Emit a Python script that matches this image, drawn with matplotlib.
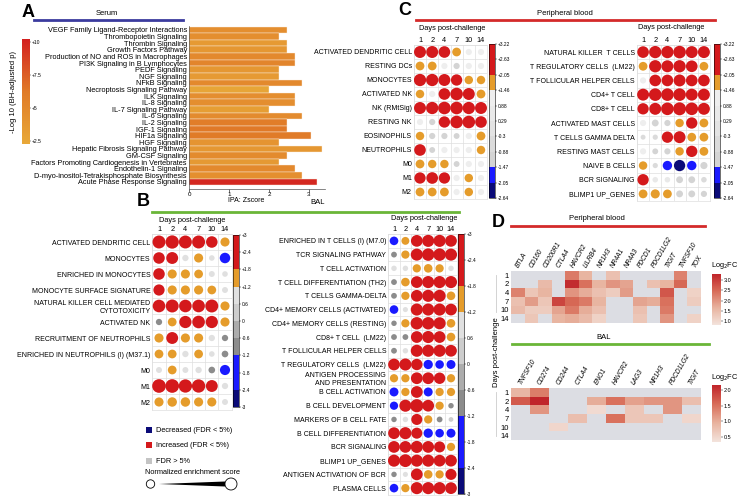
import numpy as np
import matplotlib
matplotlib.use('Agg')
import matplotlib.pyplot as plt
from matplotlib.colors import ListedColormap, BoundaryNorm, LinearSegmentedColormap, Normalize
from matplotlib.cm import ScalarMappable
from matplotlib.patches import Rectangle, Circle, Polygon

plt.rcParams['font.family'] = ['Liberation Sans', 'DejaVu Sans']

nan = np.nan
W, H = 739, 498

# ---- A: IPA pathways, serum ----
pathways = ['VEGF Family Ligand-Receptor Interactions', 'Thrombopoietin Signaling',
            'Thrombin Signaling', 'Growth Factors Pathway',
            'Production of NO and ROS in Macrophages', 'PI3K Signaling in B Lymphocytes',
            'PEDF Signaling', 'NGF Signaling', 'NFkB Signaling',
            'Necroptosis Signaling Pathway', 'ILK Signaling', 'IL-8 Signaling',
            'IL-7 Signaling Pathway', 'IL-6 Signaling', 'IL-2 Signaling', 'IGF-1 Signaling',
            'HIF1a Signaling', 'HGF Signaling', 'Hepatic Fibrosis Signaling Pathway',
            'GM-CSF Signaling', 'Factors Promoting Cardiogenesis in Vertebrates',
            'Endothelin-1 Signaling', 'D-myo-inositol-Tetrakisphosphate Biosynthesis',
            'Acute Phase Response Signaling']
zscores = [2.45, 2.24, 2.45, 2.45, 2.65, 2.65, 2.24, 2.24, 2.83, 2.0, 2.65, 2.65,
           2.0, 2.83, 2.45, 2.45, 3.05, 2.24, 3.32, 2.45, 2.24, 2.65, 2.83, 3.21]
neglogp = [4.5, 4.5, 3.5, 3.8, 5.0, 5.3, 3.8, 3.5, 5.0, 2.6, 4.5, 4.5,
           3.2, 4.8, 6.0, 6.3, 6.2, 4.0, 3.8, 4.8, 3.6, 5.0, 4.4, 9.8]

days = ['1', '2', '4', '7', '10', '14']

# ---- B: BAL gene set enrichment (NES) ----
b_left_rows = ['ACTIVATED DENDRITIC CELL', 'MONOCYTES', 'ENRICHED IN MONOCYTES',
               'MONOCYTE SURFACE SIGNATURE', 'NATURAL KILLER CELL MEDIATED\nCYTOTOXICITY',
               'ACTIVATED NK', 'RECRUITMENT OF NEUTROPHILS',
               'ENRICHED IN NEUTROPHILS (I) (M37.1)', 'M0', 'M1', 'M2']
b_left_nes = [[2.7, 2.8, 2.7, 2.7, 2.3, 1.6],
              [2.3, 2.4, 0.8, 1.6, 0.6, -2.0],
              [2.3, 1.6, 1.6, 1.5, 0.7, 0.6],
              [2.2, 1.6, 1.6, 1.6, 1.5, 0.7],
              [2.6, 2.7, 2.6, 2.6, 2.7, 1.6],
              [-0.8, 1.5, 2.5, 2.6, 2.5, 1.6],
              [1.6, 2.4, 1.6, 1.6, 0.8, -0.8],
              [1.5, 1.5, 0.8, 1.5, 0.6, -0.9],
              [0.7, 1.5, 0.7, 0.8, -0.9, -1.9],
              [2.9, 2.9, 2.8, 2.8, 2.4, 0.8],
              [1.6, 1.7, 1.7, 1.6, 1.6, 0.7]]

b_right_rows = ['ENRICHED IN T CELLS (I) (M7.0)', 'TCR SIGNALING PATHWAY', 'T CELL ACTIVATION',
                'T CELL DIFFERENTIATION (TH2)', 'T CELLS GAMMA-DELTA',
                'CD4+ MEMORY CELLS (ACTIVATED)', 'CD4+ MEMORY CELLS (RESTING)',
                'CD8+ T CELL  (LM22)', 'T FOLLICULAR HELPER CELLS',
                'T REGULATORY CELLS  (LM22)', 'ANTIGEN PROCESSING\nAND PRESENTATION',
                'B CELL ACTIVATION', 'B CELL DEVELOPMENT', 'MARKERS OF B CELL FATE',
                'B CELL DIFFERENTIATION', 'BCR SIGNALING', 'BLIMP1 UP_GENES',
                'ANTIGEN ACTIVATION OF BCR', 'PLASMA CELLS']
b_right_nes = [[-1.6, 1.4, 2.5, 2.6, 2.6, 2.5],
               [-0.8, 1.5, 2.6, 2.7, 2.7, 2.6],
               [0.7, 0.7, 1.5, 1.6, 1.5, 0.7],
               [-0.8, 1.6, 2.5, 2.6, 2.6, 2.6],
               [-0.8, 1.5, 2.5, 2.6, 2.6, 1.6],
               [-1.6, 0.6, 2.6, 2.6, 2.6, 2.5],
               [-0.7, 1.5, 2.7, 2.7, 2.6, 1.6],
               [-0.8, -0.8, 2.5, 2.6, 2.5, 1.6],
               [-0.8, 0.7, 2.6, 2.6, 2.6, 2.5],
               [2.5, 2.6, 2.4, -1.8, -1.6, -1.7],
               [1.5, 1.5, 2.5, 2.5, 2.4, 1.5],
               [-1.7, 1.5, 2.5, -1.7, 1.5, 1.5],
               [-1.5, 2.6, 2.9, 2.5, 1.5, -0.7],
               [-0.7, 0.7, 2.3, 1.5, -0.8, 0.5],
               [2.5, 2.6, 2.3, -1.8, -1.6, -1.7],
               [2.5, 2.5, 2.6, 2.5, 2.3, 1.5],
               [2.6, 2.8, 2.6, 2.6, 2.5, 2.5],
               [-0.7, 0.6, 2.5, 1.6, 1.5, 2.3],
               [-1.6, 1.5, 2.6, 2.6, 2.6, 2.5]]

# ---- C: peripheral blood (NES) ----
c_left_rows = ['ACTIVATED DENDRITIC CELL', 'RESTING DCs', 'MONOCYTES', 'ACTIVATED NK',
               'NK (RMtSig)', 'RESTING NK', 'EOSINOPHILS', 'NEUTROPHILS', 'M0', 'M1', 'M2']
c_left_nes = [[2.8, 2.8, 2.7, 1.8, 1.0, 1.0],
              [1.8, 1.8, 1.0, -1.0, 1.0, 1.0],
              [2.9, 2.9, 2.8, 2.6, 1.7, 1.7],
              [1.7, 1.0, 2.7, 3.0, 2.8, 1.8],
              [2.8, 2.9, 3.0, 3.0, 2.9, 2.8],
              [1.0, -1.0, 2.6, 3.0, 3.0, 2.7],
              [1.7, -1.0, -1.0, -0.9, 1.0, 1.8],
              [2.7, -0.9, 1.0, 1.0, 1.0, 1.7],
              [1.8, 1.7, 1.7, -0.9, 1.0, 1.0],
              [2.6, 2.7, 2.6, 1.0, 1.7, 1.0],
              [1.8, 1.8, 1.8, 1.0, 1.7, 1.0]]

c_right_rows = ['NATURAL KILLER  T CELLS', 'T REGULATORY CELLS  (LM22)',
                'T FOLLICULAR HELPER CELLS', 'CD4+ T CELL', 'CD8+ T CELL',
                'ACTIVATED MAST CELLS', 'T CELLS GAMMA DELTA', 'RESTING MAST CELLS',
                'NAIVE B CELLS', 'BCR SIGNALING', 'BLIMP1 UP_GENES']
c_right_nes = [[2.7, 2.9, 2.9, 3.0, 2.8, 2.8],
               [1.8, 2.9, 2.8, 2.9, 2.7, 1.8],
               [1.0, 2.7, 2.7, 2.8, 2.7, 2.7],
               [2.8, 3.0, 3.0, 3.0, 2.8, 2.8],
               [2.6, 2.8, 3.0, 3.1, 3.0, 2.8],
               [1.0, -1.2, -1.0, 1.7, 2.6, 1.8],
               [-0.6, -0.7, 2.6, 2.8, 1.8, 1.8],
               [1.0, -0.9, -1.0, 1.7, 2.6, 1.8],
               [1.7, -0.7, -2.0, -2.6, -2.0, -1.3],
               [2.6, 0.8, 0.8, -1.2, -1.2, -0.8],
               [1.8, 1.9, 1.8, -1.2, -1.2, -1.0]]

# ---- D: checkpoint genes log2FC ----
genes_pb = ['BTLA', 'CD160', 'CD200R1', 'CTLA4', 'HAVCR2', 'LILRB4', 'NR1H3', 'NR4A1',
            'NR4A3', 'PDCD1', 'PDCD1LG2', 'TIGIT', 'TNFSF10', 'TOX']
pb_fc = [[nan, nan, nan, nan, 2.3, 1.6, nan, 1.4, nan, nan, nan, nan, 2.2, nan],
         [nan, nan, 1.5, nan, 3.2, 2.4, 1.6, 2.0, 1.8, nan, 1.4, 1.6, 2.5, nan],
         [2.2, 1.3, 1.6, nan, 2.0, 1.7, 1.4, 1.2, 1.9, nan, nan, 2.7, nan, 1.1],
         [1.4, 1.9, 1.3, 2.9, 2.5, 2.3, 1.6, nan, nan, 1.8, 1.7, 2.4, nan, 1.2],
         [1.5, 1.2, 1.2, 1.8, 2.3, 1.7, 1.4, nan, nan, 1.4, nan, 2.3, nan, nan],
         [nan, 1.3, nan, 1.6, 1.7, 1.5, 1.1, nan, nan, 1.3, nan, 2.0, nan, 1.1]]

genes_bal = ['TNFSF10', 'CD274', 'CD244', 'CTLA4', 'ENO1', 'HAVCR2', 'LAG3', 'NR1H3',
             'PDCD1LG2', 'TIGIT']
bal_fc = [[0.9, 1.4, nan, nan, nan, nan, nan, nan, nan, nan],
          [1.7, 2.15, nan, nan, 1.0, 1.5, 1.1, 1.2, 1.2, 0.8],
          [nan, 1.2, nan, nan, 0.45, nan, 0.7, nan, 1.2, nan],
          [nan, nan, nan, 0.8, nan, 1.5, 0.7, 0.7, nan, 0.5],
          [nan, nan, 0.5, nan, nan, nan, nan, nan, nan, nan],
          [nan, nan, nan, nan, nan, nan, nan, nan, nan, nan]]

RED = '#d4191c'
ORANGE = '#e59c2b'
BLUE = '#1a1aff'
NAVY = '#0b0b78'

fig = plt.figure(figsize=(W / 100, H / 100), dpi=100)


def px_axes(x0, y0, x1, y1):
    return fig.add_axes([x0 / W, 1 - y1 / H, (x1 - x0) / W, (y1 - y0) / H])


# ---------- A ----------
bar_cmap = LinearSegmentedColormap.from_list('ipa', ['#e8a838', '#e07a28', '#d31f1f'])
bar_norm = Normalize(2.3, 10.2)
ax = px_axes(189, 26, 325, 189)
yy = np.arange(len(pathways))
ax.barh(yy, zscores, height=1.0, color=bar_cmap(bar_norm(neglogp)),
        edgecolor='#fbeee0', linewidth=0.3)
ax.set_ylim(24.06, -0.6)
ax.set_xlim(0, 3.4)
ax.set_yticks(yy)
ax.set_yticklabels(pathways, fontsize=5.3)
ax.set_xticks([0, 1, 2, 3])
ax.tick_params(axis='y', length=0, pad=1.5)
ax.tick_params(axis='x', length=2, width=0.4, labelsize=4.5, pad=0.5)
for s in ['top', 'right']:
    ax.spines[s].set_visible(False)
for s in ['left', 'bottom']:
    ax.spines[s].set_linewidth(0.5)
    ax.spines[s].set_color('#555555')

cax = px_axes(22, 39, 30, 144)
cb = fig.colorbar(ScalarMappable(norm=bar_norm, cmap=bar_cmap), cax=cax,
                  ticks=[2.5, 5, 7.5, 10])
cb.ax.set_yticklabels(['+2.5', '+5', '+7.5', '+10'])
cb.ax.tick_params(labelsize=3.6, length=1, width=0.3, pad=0.5)
cb.outline.set_visible(False)


# ---------- dot plots ----------
def dotplot(box, rows, vals, bounds, colors, k, c0, cbox, clabels):
    vals = np.array(vals, dtype=float)
    n = len(rows)
    ax = px_axes(*box)
    cmap = ListedColormap(colors)
    norm = BoundaryNorm(bounds, cmap.N)
    xx, yy = np.meshgrid(np.arange(len(days)), np.arange(n))
    diam = k * np.abs(vals) + c0
    ax.scatter(xx.ravel(), yy.ravel(), s=(diam.ravel() * 0.72) ** 2, c=vals.ravel(),
               cmap=cmap, norm=norm, linewidths=0, zorder=3)
    ax.set_xlim(-0.5, len(days) - 0.5)
    ax.set_ylim(n - 0.5, -0.5)
    ax.set_xticks(range(len(days)))
    ax.set_xticklabels(days)
    ax.xaxis.tick_top()
    ax.set_yticks(range(n))
    ax.set_yticklabels(rows)
    ax.set_xticks(np.arange(-0.5, len(days)), minor=True)
    ax.set_yticks(np.arange(-0.5, n), minor=True)
    ax.grid(which='minor', color='#dedede', lw=0.5)
    ax.tick_params(which='both', length=0)
    ax.tick_params(axis='x', labelsize=5.3, pad=0.8)
    ax.tick_params(axis='y', labelsize=5, pad=1.5)
    for s in ax.spines.values():
        s.set_color('#dedede')
        s.set_linewidth(0.5)
    cax = px_axes(*cbox)
    cb = fig.colorbar(ScalarMappable(norm=norm, cmap=cmap), cax=cax, ticks=bounds)
    cb.ax.set_yticklabels(clabels)
    cb.ax.tick_params(labelsize=3.5, length=1.2, width=0.3, pad=0.6)
    cb.outline.set_linewidth(0.4)


b_bounds = [-3, -2.4, -1.8, -1.2, -0.6, 0, 0.6, 1.2, 1.8, 2.4, 3]
b_labels = ['-3', '-2.4', '-1.8', '-1.2', '-0.6', '0', '0.6', '+1.2', '+1.8', '+2.4', '+3']
b_colors = [NAVY, BLUE, BLUE, '#8c8c8c', '#acacac', '#cdcdcd', '#e0e0e0', ORANGE, RED, RED]

c_bounds = [-2.64, -2.05, -1.47, -0.88, -0.3, 0.29, 0.88, 1.46, 2.05, 2.63, 3.22]
c_labels = ['-2.64', '-2.05', '-1.47', '-0.88', '-0.3', '0.29', '0.88', '+1.46',
            '+2.05', '+2.63', '+3.22']
c_colors = [NAVY, BLUE, '#d4d4d4', '#dbdbdb', '#e3e3e3', '#e9e9e9', '#eeeeee', ORANGE, RED, RED]

dotplot((152.4, 234, 231.6, 410), b_left_rows, b_left_nes, b_bounds, b_colors, 3.5, 3.5,
        (233, 235, 239, 407), b_labels)
dotplot((388.3, 234, 456.7, 495), b_right_rows, b_right_nes, b_bounds, b_colors, 3.5, 3.0,
        (458, 234, 464, 494), b_labels)
dotplot((413.9, 45, 487.1, 199), c_left_rows, c_left_nes, c_bounds, c_colors, 3.2, 3.0,
        (489, 44, 495, 198), c_labels)
dotplot((637, 45, 710, 201), c_right_rows, c_right_nes, c_bounds, c_colors, 3.2, 3.0,
        (714, 44, 720, 198), c_labels)

# ---------- D heatmaps ----------
fc_cmap = LinearSegmentedColormap.from_list('fc', ['#f3e3dc', '#e8b39f', '#d86c58', '#c0242a'])
fc_cmap = fc_cmap.with_extremes(bad='#dcdde3')


def heatmap(box, genes, vals, vmin, vmax, cbox, ticks):
    ax = px_axes(*box)
    data = np.ma.masked_invalid(np.array(vals, dtype=float))
    im = ax.imshow(data, cmap=fc_cmap, vmin=vmin, vmax=vmax, aspect='auto',
                   interpolation='nearest')
    ax.set_xticks(np.arange(len(genes)))
    ax.set_xticklabels(genes, rotation=60, ha='left', va='center',
                       rotation_mode='anchor', fontstyle='italic', fontsize=4.8)
    ax.xaxis.tick_top()
    ax.set_yticks(range(len(days)))
    ax.set_yticklabels(days, fontsize=5.5)
    ax.tick_params(length=0, pad=1.5)
    ax.tick_params(axis='x', pad=3)
    for s in ax.spines.values():
        s.set_visible(False)
    cax = px_axes(*cbox)
    cb = fig.colorbar(im, cax=cax, ticks=ticks, format='%.1f')
    cb.ax.tick_params(labelsize=4, length=1.2, width=0.3, pad=0.8)
    cb.outline.set_visible(False)


heatmap((511, 271, 701, 323), genes_pb, pb_fc, 0.8, 3.3, (712, 274, 721, 325),
        [1.0, 1.5, 2.0, 2.5, 3.0])
heatmap((511, 388, 700, 440), genes_bal, bal_fc, 0.34, 2.16, (712, 385, 721, 442),
        [0.5, 1.0, 1.5, 2.0])

# ---------- annotations (pixel overlay) ----------
ov = fig.add_axes([0, 0, 1, 1])
ov.set_xlim(0, W)
ov.set_ylim(H, 0)
ov.axis('off')

for lab, x, y in [('A', 28, 12), ('B', 143, 201), ('C', 405, 10), ('D', 498, 222)]:
    ov.text(x, y, lab, fontsize=13, fontweight='bold', ha='center', va='center')

# section bars
ov.plot([34, 183], [20, 20], color='#3b3b9e', lw=2)
ov.text(107, 13, 'Serum', fontsize=5.5, ha='center', va='center')
ov.plot([152, 459], [212, 212], color='#6ab638', lw=2)
ov.text(318, 202, 'BAL', fontsize=5.5, ha='center', va='center')
ov.plot([416, 715], [20, 20], color='#d42a2a', lw=2)
ov.text(565, 13, 'Peripheral blood', fontsize=5.5, ha='center', va='center')
ov.plot([511, 705], [226, 226], color='#d42a2a', lw=2)
ov.text(597, 218, 'Peripheral blood', fontsize=5.5, ha='center', va='center')
ov.plot([512, 709], [344, 344], color='#6ab638', lw=2)
ov.text(604, 337, 'BAL', fontsize=5.5, ha='center', va='center')

ov.text(246, 200.5, 'IPA: Zscore', fontsize=5, ha='center', va='center')
ov.text(14, 92, '-Log 10 (BH-adjusted p)', fontsize=5.5, rotation=90,
        ha='center', va='center')

for x, y in [(192, 220), (424, 218), (452, 28), (671, 27)]:
    ov.text(x, y, 'Days post-challenge', fontsize=5.3, ha='center', va='center')

ov.text(496, 352, 'Days post-challenge', fontsize=5.5, rotation=90, ha='center', va='center')
ov.plot([496, 496], [275, 312], color='#cccccc', lw=0.6)
ov.plot([496, 496], [392, 436], color='#cccccc', lw=0.6)
ov.text(711, 265, r'Log$_2$FC', fontsize=5.3, ha='left', va='center')
ov.text(711, 377, r'Log$_2$FC', fontsize=5.3, ha='left', va='center')

# legend for B
for col, txt, y in [(NAVY, 'Decreased (FDR < 5%)', 430), (RED, 'Increased (FDR < 5%)', 445),
                    ('#c4c4c4', 'FDR > 5%', 461)]:
    ov.add_patch(Rectangle((146, y - 3), 6, 6, color=col, lw=0))
    ov.text(156, y, txt, fontsize=5.3, ha='left', va='center')
ov.text(145, 472, 'Normalized enrichment score', fontsize=5.3, ha='left', va='center')
ov.add_patch(Circle((150.5, 484), 4.2, fill=False, ec='black', lw=0.6))
ov.add_patch(Circle((231, 484), 6, fill=False, ec='black', lw=0.6))
ov.add_patch(Polygon([(159, 484), (225, 481.5), (225, 486.5)], closed=True,
                     color='black', lw=0))

fig.savefig('out.png', dpi=100)
